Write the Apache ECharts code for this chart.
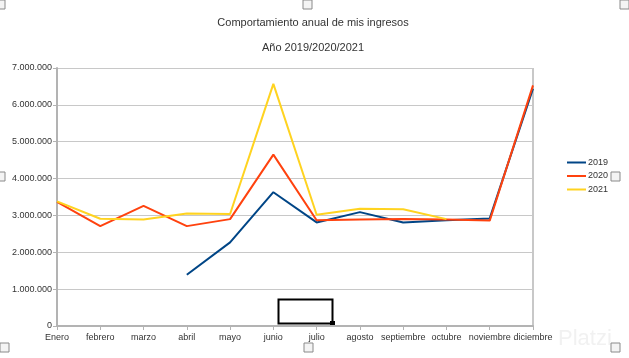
<!DOCTYPE html>
<html><head><meta charset="utf-8">
<script src="https://cdn.jsdelivr.net/npm/echarts@6/dist/echarts.min.js"></script>
<style>html,body{margin:0;padding:0;background:#fff}#c{width:629px;height:358px}</style>
</head><body><div id="c"></div>
<script>
const categories = ['Enero','febrero','marzo','abril','mayo','junio','julio','agosto','septiembre','octubre','noviembre','diciembre'];
const s2019 = [null,null,null,1390000,2270000,3630000,2810000,3090000,2810000,2870000,2920000,6440000];
const s2020 = [3370000,2710000,3260000,2710000,2900000,4650000,2870000,2890000,2900000,2890000,2860000,6530000];
const s2021 = [3380000,2910000,2890000,3050000,3040000,6570000,3020000,3180000,3170000,2900000,null,null];
const seriesNames = ['2019','2020','2021'];
const colors = ['#004586','#ff420e','#ffd320'];
const titleText = 'Comportamiento anual de mis ingresos';
const subtitleText = 'Año 2019/2020/2021';

const font = 'Liberation Sans, Arial, sans-serif';
function fmt(v){ return String(v).replace(/\B(?=(\d{3})+(?!\d))/g,'.'); }
function handle(x,y){ return {type:'rect',shape:{x:x,y:y,width:9,height:9},style:{fill:'#f4f4f4',stroke:'#8a8a8a',lineWidth:1},silent:true}; }

const chart = echarts.init(document.getElementById('c'), null, {renderer:'canvas'});
chart.setOption({
  animation:false,
  backgroundColor:'#fff',
  color:colors,
  title:[
    {text:titleText,left:308,top:12,textAlign:'center',textStyle:{fontFamily:font,fontSize:11,fontWeight:'normal',color:'#333'}},
    {text:subtitleText,left:308,top:37,textAlign:'center',textStyle:{fontFamily:font,fontSize:11,fontWeight:'normal',color:'#333'}}
  ],
  legend:{
    orient:'vertical',left:567,top:157,itemWidth:19,itemHeight:2,itemGap:2.5,padding:[0,0,0,0],
    icon:'rect',
    textStyle:{fontFamily:font,fontSize:9,color:'#333',padding:[0,0,0,-3],lineHeight:11},
    data:seriesNames
  },
  grid:{left:57,right:96,top:68,bottom:32},
  xAxis:{
    type:'category',data:categories,boundaryGap:false,
    axisLine:{lineStyle:{color:'#b3b3b3',width:2}},
    axisTick:{show:true,alignWithLabel:true,length:4,lineStyle:{color:'#b3b3b3'}},
    axisLabel:{fontFamily:font,fontSize:9,color:'#333',margin:7,interval:0},
    splitLine:{show:false}
  },
  yAxis:{
    type:'value',min:0,max:7000000,interval:1000000,
    axisLine:{show:true,lineStyle:{color:'#b3b3b3',width:2}},
    axisTick:{show:true,length:4,lineStyle:{color:'#b3b3b3'}},
    axisLabel:{fontFamily:font,fontSize:9,color:'#333',margin:5,formatter:fmt},
    splitLine:{lineStyle:{color:'#c8c8c8',width:1}}
  },
  series:[
    {name:seriesNames[0],type:'line',data:s2019,showSymbol:false,symbol:'none',lineStyle:{width:2},connectNulls:false},
    {name:seriesNames[1],type:'line',data:s2020,showSymbol:false,symbol:'none',lineStyle:{width:2}},
    {name:seriesNames[2],type:'line',data:s2021,showSymbol:false,symbol:'none',lineStyle:{width:2},connectNulls:false}
  ],
  graphic:[
    {type:'line',shape:{x1:533,y1:68,x2:533,y2:326},style:{stroke:'#c8c8c8',lineWidth:2},silent:true},
    {type:'rect',shape:{x:278.5,y:299.5,width:54,height:24},style:{fill:'none',stroke:'#000',lineWidth:2},silent:true},
    {type:'rect',shape:{x:330,y:321,width:5,height:5},style:{fill:'#000'},silent:true},
    handle(-4,0), handle(303,0), handle(620,0),
    handle(-4,172), handle(611,172),
    handle(0,343), handle(304,343), handle(611,343),
    {type:'text',style:{x:558,y:328,text:'Platzi',font:'22px Liberation Sans, Arial, sans-serif',fill:'rgba(200,200,200,0.25)'},silent:true}
  ]
});
</script></body></html>
